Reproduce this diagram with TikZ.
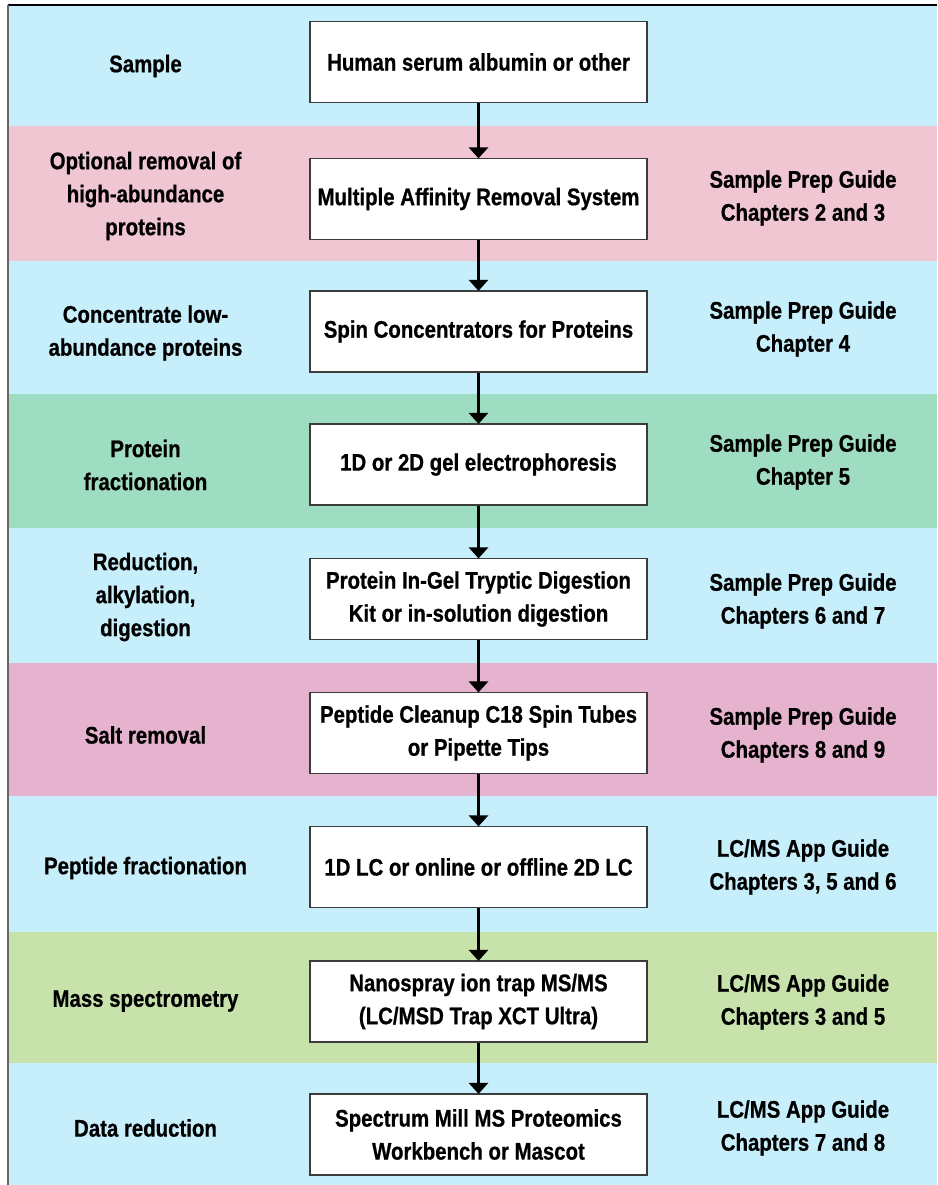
\documentclass[tikz,border=0pt]{standalone}
\usepackage{fontspec}
\setmainfont{Liberation Sans}[FakeStretch=0.85,FakeBold=0.7]
\usetikzlibrary{arrows.meta}
\definecolor{bandblue}{RGB}{198,238,251}
\definecolor{bandpink}{RGB}{240,198,210}
\definecolor{bandgreen}{RGB}{158,221,193}
\definecolor{bandmauve}{RGB}{230,179,206}
\definecolor{bandlime}{RGB}{200,226,172}
\definecolor{boxline}{RGB}{60,60,60}
\tikzset{
  txt/.style={align=center, font=\bfseries\fontsize{24}{33}\selectfont, inner sep=0pt},
  stepbox/.style={txt, draw=boxline, line width=1.2pt, fill=white, minimum width=337pt, minimum height=81pt},
  arr/.style={line width=3pt, -{Triangle[width=19pt,length=11pt]}, shorten >=-0.5pt},
}
\begin{document}
\begin{tikzpicture}[x=1pt,y=-1pt]
\useasboundingbox (0,0) rectangle (937,1185);
% bands
\fill[bandblue]  (8,5)    rectangle (937,126);
\fill[bandpink]  (8,126)  rectangle (937,261);
\fill[bandblue]  (8,261)  rectangle (937,394);
\fill[bandgreen] (8,394)  rectangle (937,528);
\fill[bandblue]  (8,528)  rectangle (937,663);
\fill[bandmauve] (8,663)  rectangle (937,796);
\fill[bandblue]  (8,796)  rectangle (937,932);
\fill[bandlime]  (8,932)  rectangle (937,1063);
\fill[bandblue]  (8,1063) rectangle (937,1185);
\draw[line width=1.5pt, black] (8,5) -- (937,5);
\draw[line width=1.5pt, black!60] (8,5) -- (8,1185);
% boxes
\node[stepbox] (b1) at (478.5,62)   {Human serum albumin or other};
\node[stepbox] (b2) at (478.5,199)  {Multiple Affinity Removal System};
\node[stepbox] (b3) at (478.5,331.5){Spin Concentrators for Proteins};
\node[stepbox] (b4) at (478.5,464.5){1D or 2D gel electrophoresis};
\node[stepbox] (b5) at (478.5,599)  {Protein In-Gel Tryptic Digestion\\Kit or in-solution digestion};
\node[stepbox] (b6) at (478.5,733)  {Peptide Cleanup C18 Spin Tubes\\or Pipette Tips};
\node[stepbox] (b7) at (478.5,867)  {1D LC or online or offline 2D LC};
\node[stepbox] (b8) at (478.5,1001.5){Nanospray ion trap MS/MS\\(LC/MSD Trap XCT Ultra)};
\node[stepbox] (b9) at (478.5,1134.5){Spectrum Mill MS Proteomics\\Workbench or Mascot};
% left labels
\node[txt] (l1) at (145.5,66)  {Sample};
\node[txt] (l2) at (145.5,196) {Optional removal of\\high-abundance\\proteins};
\node[txt] (l3) at (145.5,333) {Concentrate low-\\abundance proteins};
\node[txt] (l4) at (145.5,465) {Protein\\fractionation};
\node[txt] (l5) at (145.5,597) {Reduction,\\alkylation,\\digestion};
\node[txt] (l6) at (145.5,735) {Salt removal};
\node[txt] (l7) at (145.5,868) {Peptide fractionation};
\node[txt] (l8) at (145.5,1001){Mass spectrometry};
\node[txt] (l9) at (145.5,1128){Data reduction};
% right labels
\node[txt] (r2) at (803,198)  {Sample Prep Guide\\Chapters 2 and 3};
\node[txt] (r3) at (803,329)  {Sample Prep Guide\\Chapter 4};
\node[txt] (r4) at (803,462)  {Sample Prep Guide\\Chapter 5};
\node[txt] (r5) at (803,601)  {Sample Prep Guide\\Chapters 6 and 7};
\node[txt] (r6) at (803,735)  {Sample Prep Guide\\Chapters 8 and 9};
\node[txt] (r7) at (803,867)  {LC/MS App Guide\\Chapters 3, 5 and 6};
\node[txt] (r8) at (803,1002) {LC/MS App Guide\\Chapters 3 and 5};
\node[txt] (r9) at (803,1128) {LC/MS App Guide\\Chapters 7 and 8};
% arrows
\draw[arr] (b1) -- (b2);
\draw[arr] (b2) -- (b3);
\draw[arr] (b3) -- (b4);
\draw[arr] (b4) -- (b5);
\draw[arr] (b5) -- (b6);
\draw[arr] (b6) -- (b7);
\draw[arr] (b7) -- (b8);
\draw[arr] (b8) -- (b9);
\end{tikzpicture}
\end{document}
